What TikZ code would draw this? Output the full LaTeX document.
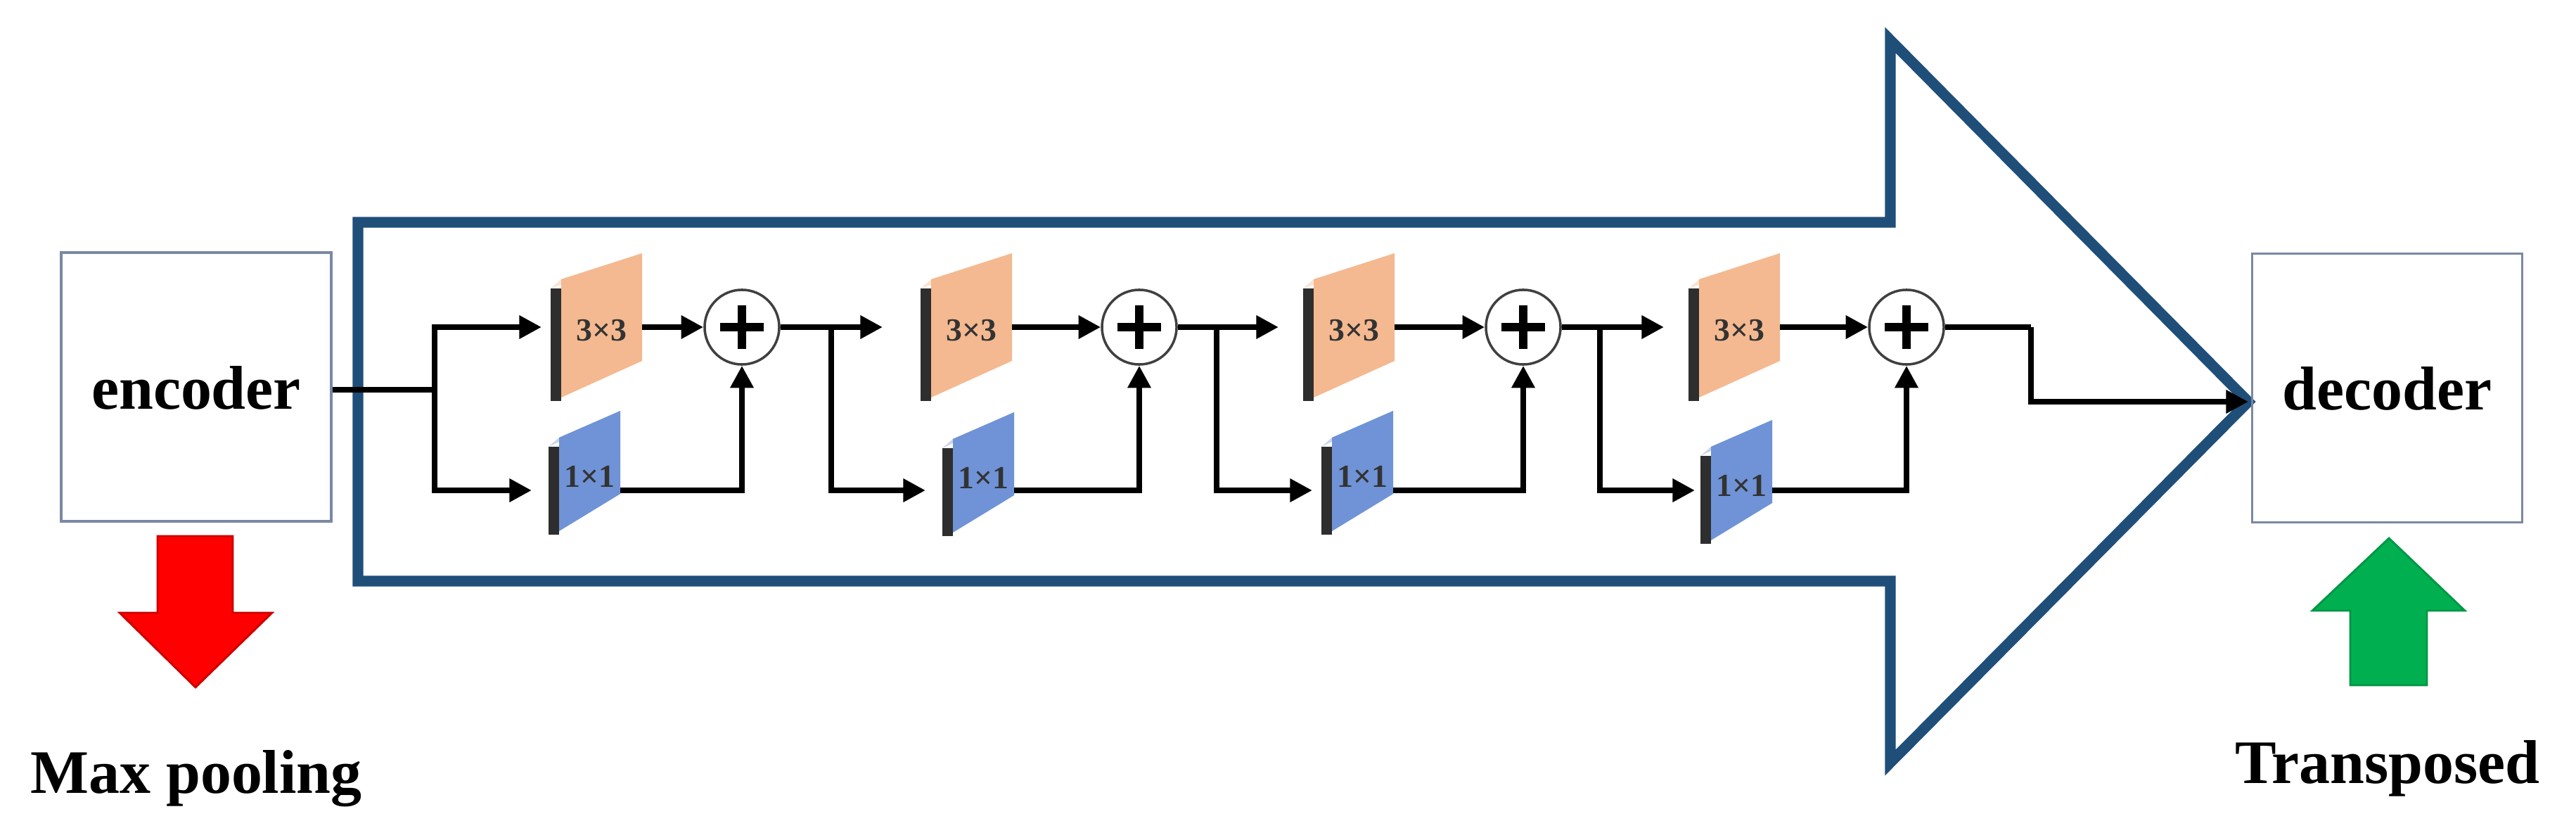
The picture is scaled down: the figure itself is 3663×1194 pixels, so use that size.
\documentclass[tikz,border=0pt]{standalone}
\usepackage{fontspec}
\setmainfont{Liberation Serif}
\usetikzlibrary{arrows.meta}
\definecolor{bigblue}{HTML}{1F4E79}
\definecolor{boxline}{HTML}{7A88A3}
\definecolor{peach}{HTML}{F4B990}
\definecolor{peachtop}{HTML}{FBE3D2}
\definecolor{blueface}{HTML}{6F93D6}
\definecolor{bluetop}{HTML}{C9D5E8}
\definecolor{bardark}{HTML}{2E2E2E}
\definecolor{redarrow}{HTML}{FF0000}
\definecolor{greenarrow}{HTML}{00B050}
\tikzset{
  conn/.style={line width=2.3pt, black},
  arr/.style={conn, -{Triangle[length=9pt,width=9pt]}},
  box/.style={draw=boxline, line width=1pt, minimum width=3.84cm, minimum height=3.82cm, inner sep=0pt},
  bigtxt/.style={font=\bfseries\fontsize{25}{30}\selectfont, inner sep=0pt},
  blktxt/.style={font=\bfseries\fontsize{13}{15}\selectfont, inner sep=0pt, text=black!80},
  plus/.style={circle, draw=black!75, line width=1pt, minimum size=1.06cm, inner sep=0pt, fill=white},
}
% \blk{name}{x0}{y0}{h}{w}{d}{face}{top}{label}{textdy}
\newcommand{\blk}[9]{%
  \fill[#8] (#2,#3) -- (#2+#5,#3-#6-3) -- (#2+15+#5,#3-13-#6) -- (#2+15,#3-13) -- cycle;
  \fill[#7] (#2+15,#3-13) -- (#2+15+#5,#3-13-#6) -- (#2+15+#5,#3+#4-20-#6) -- (#2+15,#3+#4-5) -- cycle;
  \fill[bardark] (#2,#3) rectangle (#2+15,#3+#4);
  \node[blktxt] (#1) at (#2+15+#5/2,#3+#4/2-20) {#9};
  \coordinate (#1r) at (#2+15+#5,0);
}
\newcommand{\plusnode}[3]{%
  \node[plus] (#1) at (#2,#3) {};
  \draw[line width=3.2pt] (#2-31,#3) -- (#2+31,#3) (#2,#3-31) -- (#2,#3+31);
}
\begin{document}
\begin{tikzpicture}[x=0.01cm, y=-0.01cm]
\useasboundingbox (0,0) rectangle (3663,1194);
\fill[white] (0,0) rectangle (3663,1194);
% big arrow
\draw[bigblue, line width=4.3pt, miter limit=10] (509,316) -- (2688,316) -- (2688,57) -- (3197,571) -- (2688,1084) -- (2688,826) -- (509,826) -- cycle;
% encoder / decoder
\node[box] (enc) at (279,550) {};
\node[bigtxt, anchor=base] (enctxt) at (279,581) {encoder};
\node[box] (dec) at (3394.5,551.5) {};
\node[bigtxt, anchor=base] (dectxt) at (3394.5,582) {decoder};
% red / green arrows
\draw[redarrow!80!black, fill=redarrow, line width=0.8pt] (224,762) -- (331,762) -- (331,871) -- (387,871) -- (278,977) -- (170,871) -- (224,871) -- cycle;
\node[bigtxt, anchor=base] (mp) at (279,1127) {Max pooling};
\draw[greenarrow!85!black, fill=greenarrow, line width=0.8pt] (3342,974) -- (3451,974) -- (3451,868) -- (3505,868) -- (3397,765) -- (3288,868) -- (3342,868) -- cycle;
\node[bigtxt, anchor=base] (tr) at (3395,1113) {Transposed};
% blocks
\blk{ta}{783}{410}{160}{115}{37}{peach}{peachtop}{3×3}{0}
\blk{ba}{780}{635}{125}{87}{38}{blueface}{bluetop}{1×1}{0}
\blk{tb}{1309}{410}{160}{115}{37}{peach}{peachtop}{3×3}{0}
\blk{bb}{1340}{637}{125}{87}{38}{blueface}{bluetop}{1×1}{0}
\blk{tc}{1853}{410}{160}{115}{37}{peach}{peachtop}{3×3}{0}
\blk{bc}{1879}{635}{125}{87}{38}{blueface}{bluetop}{1×1}{0}
\blk{td}{2401}{410}{160}{115}{37}{peach}{peachtop}{3×3}{0}
\blk{bd}{2418}{648}{125}{87}{38}{blueface}{bluetop}{1×1}{0}
% coordinates
\coordinate (b1) at (618,554);
\coordinate (b2) at (1182,465);
\coordinate (b3) at (1730,465);
\coordinate (b4) at (2275,465);
\coordinate (ta-in) at (770,465);  \coordinate (ba-in) at (756,697);
\coordinate (tb-in) at (1255,465); \coordinate (bb-in) at (1316,697);
\coordinate (tc-in) at (1818,465); \coordinate (bc-in) at (1866,697);
\coordinate (td-in) at (2366,465); \coordinate (bd-in) at (2410,697);
\coordinate (ta-out) at (913,465);  \coordinate (ba-out) at (882,697);
\coordinate (tb-out) at (1439,465); \coordinate (bb-out) at (1442,697);
\coordinate (tc-out) at (1983,465); \coordinate (bc-out) at (1981,697);
\coordinate (td-out) at (2531,465); \coordinate (bd-out) at (2520,697);
\coordinate (turn) at (2888,465);
\coordinate (tip) at (3197,571);
% plus nodes
\plusnode{p1}{1055}{465}
\plusnode{p2}{1620}{465}
\plusnode{p3}{2166}{465}
\plusnode{p4}{2711}{465}
% connectors
\draw[conn] (enc.east |- b1) -- (b1);
\draw[arr] (b1) |- (ta-in);
\draw[arr] (b1) |- (ba-in);
\draw[arr] (ta-out) -- (p1.west);
\draw[arr] (ba-out) -| (p1.south);
\draw[arr] (p1.east) -- (tb-in);
\draw[arr] (b2) |- (bb-in);
\draw[arr] (tb-out) -- (p2.west);
\draw[arr] (bb-out) -| (p2.south);
\draw[arr] (p2.east) -- (tc-in);
\draw[arr] (b3) |- (bc-in);
\draw[arr] (tc-out) -- (p3.west);
\draw[arr] (bc-out) -| (p3.south);
\draw[arr] (p3.east) -- (td-in);
\draw[arr] (b4) |- (bd-in);
\draw[arr] (td-out) -- (p4.west);
\draw[arr] (bd-out) -| (p4.south);
\draw[conn] (p4.east) -- (turn);
\draw[arr] (turn) |- (tip);
\end{tikzpicture}
\end{document}
